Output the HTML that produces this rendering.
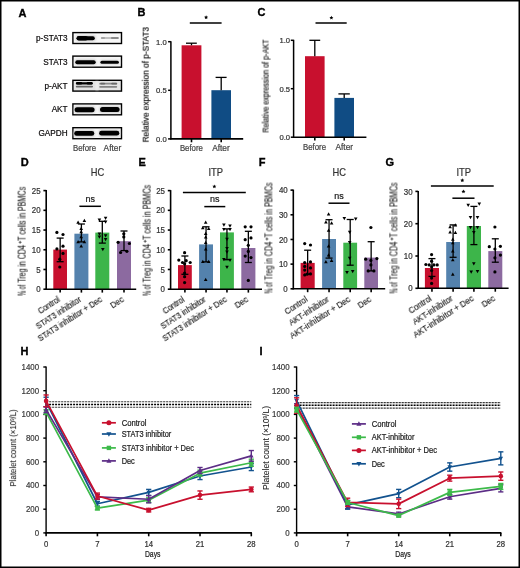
<!DOCTYPE html>
<html><head><meta charset="utf-8"><title>Figure</title>
<style>
html,body{margin:0;padding:0;background:#fff;width:520px;height:568px;overflow:hidden;}
svg{display:block;}
text{font-family:"Liberation Sans",sans-serif;will-change:transform;}
</style></head>
<body>
<svg width="520" height="568" viewBox="0 0 520 568">
<rect x="0.75" y="0.75" width="518.5" height="566.5" fill="#fff" stroke="#000" stroke-width="1.5"/>
<text x="18.6" y="17.3" font-size="11" font-weight="bold" fill="#000" stroke="#000" stroke-width="0.35">A</text>
<text x="67.6" y="40.95" font-size="8.2" stroke="#231f20" stroke-width="0.22" text-anchor="end">p-STAT3</text>
<text x="67.6" y="64.55" font-size="8.2" stroke="#231f20" stroke-width="0.22" text-anchor="end">STAT3</text>
<text x="67.6" y="88.6" font-size="8.2" stroke="#231f20" stroke-width="0.22" text-anchor="end">p-AKT</text>
<text x="67.6" y="112.25" font-size="8.2" stroke="#231f20" stroke-width="0.22" text-anchor="end">AKT</text>
<text x="67.6" y="136.1" font-size="8.2" stroke="#231f20" stroke-width="0.22" text-anchor="end">GAPDH</text>
<defs><filter id="bl" x="-20%" y="-50%" width="140%" height="200%"><feGaussianBlur stdDeviation="0.7"/></filter><filter id="bl2" x="-20%" y="-80%" width="140%" height="260%"><feGaussianBlur stdDeviation="0.8"/></filter></defs>
<rect x="72.9" y="32.6" width="48.6" height="10.9" fill="#f7f7f7" stroke="#000" stroke-width="1.4"/>
<rect x="75.6" y="35.3" width="20.4" height="6" rx="3" fill="#d0d0d0" filter="url(#bl2)" opacity="1"/>
<rect x="76.6" y="36.35" width="18.2" height="3.9" rx="1.95" fill="#000" filter="url(#bl)" opacity="1"/>
<rect x="76.6" y="36" width="11.4" height="4.6" rx="2.3" fill="#000" filter="url(#bl)" opacity="1"/>
<rect x="100.8" y="37.2" width="18.2" height="1.6" rx="0.8" fill="#b0b0b0" filter="url(#bl)" opacity="1"/>
<rect x="111" y="37.1" width="7.6" height="1.8" rx="0.9" fill="#8a8a8a" filter="url(#bl)" opacity="1"/>
<rect x="101" y="37.2" width="4" height="1.6" rx="0.8" fill="#9c9c9c" filter="url(#bl)" opacity="1"/>
<rect x="72.9" y="56.1" width="48.6" height="11.1" fill="#f6f6f6" stroke="#000" stroke-width="1.4"/>
<rect x="74.5" y="59.3" width="22" height="6" rx="3" fill="#cfcfcf" filter="url(#bl2)" opacity="1"/>
<rect x="99.8" y="59.8" width="19.7" height="5" rx="2.5" fill="#d8d8d8" filter="url(#bl2)" opacity="1"/>
<rect x="75.3" y="60.35" width="20.4" height="3.9" rx="1.95" fill="#000" filter="url(#bl)" opacity="1"/>
<rect x="100.4" y="60.8" width="18.5" height="3" rx="1.5" fill="#000" filter="url(#bl)" opacity="1"/>
<rect x="72.9" y="80.3" width="48.6" height="10.8" fill="#e4e4e4" stroke="#000" stroke-width="1.4"/>
<rect x="96" y="80.7" width="2" height="10" rx="3" fill="#f2f2f2" filter="url(#bl2)" opacity="1"/>
<rect x="75.8" y="82.3" width="17" height="2.2" rx="1.1" fill="#000" filter="url(#bl)" opacity="1"/>
<rect x="76.2" y="82" width="6" height="2.6" rx="1.3" fill="#000" filter="url(#bl)" opacity="1"/>
<rect x="86.6" y="82" width="6" height="2.6" rx="1.3" fill="#000" filter="url(#bl)" opacity="1"/>
<rect x="75.8" y="85.7" width="17.2" height="1.8" rx="0.9" fill="#666" filter="url(#bl)" opacity="1"/>
<rect x="99.2" y="82.85" width="18" height="1.7" rx="0.85" fill="#8c8c8c" filter="url(#bl)" opacity="1"/>
<rect x="100.2" y="82.65" width="5" height="1.9" rx="0.95" fill="#6a6a6a" filter="url(#bl)" opacity="1"/>
<rect x="111.2" y="82.65" width="6" height="1.9" rx="0.95" fill="#6a6a6a" filter="url(#bl)" opacity="1"/>
<rect x="99.2" y="85.95" width="18" height="1.7" rx="0.85" fill="#848484" filter="url(#bl)" opacity="1"/>
<rect x="72.9" y="103.9" width="48.6" height="10.9" fill="#f6f6f6" stroke="#000" stroke-width="1.4"/>
<rect x="74" y="106.3" width="21.2" height="7" rx="3" fill="#cccccc" filter="url(#bl2)" opacity="1"/>
<rect x="99.4" y="106.1" width="20.6" height="7" rx="3" fill="#cccccc" filter="url(#bl2)" opacity="1"/>
<rect x="74.6" y="107.3" width="20" height="5" rx="2.5" fill="#000" filter="url(#bl)" opacity="1"/>
<rect x="100" y="107.1" width="19.6" height="5" rx="2.5" fill="#000" filter="url(#bl)" opacity="1"/>
<rect x="72.9" y="127.7" width="48.6" height="11" fill="#f6f6f6" stroke="#000" stroke-width="1.4"/>
<rect x="73.6" y="129.9" width="21.2" height="7" rx="3" fill="#cccccc" filter="url(#bl2)" opacity="1"/>
<rect x="98.6" y="129.7" width="21.2" height="7" rx="3" fill="#cccccc" filter="url(#bl2)" opacity="1"/>
<rect x="74.2" y="131" width="20.1" height="4.8" rx="2.4" fill="#000" filter="url(#bl)" opacity="1"/>
<rect x="99.1" y="130.8" width="20.2" height="4.8" rx="2.4" fill="#000" filter="url(#bl)" opacity="1"/>
<text x="84.5" y="150.6" font-size="8.2" stroke="#444" stroke-width="0.22" text-anchor="middle" fill="#444" textLength="23" lengthAdjust="spacingAndGlyphs">Before</text>
<text x="112.4" y="150.6" font-size="8.2" stroke="#444" stroke-width="0.22" text-anchor="middle" fill="#444" textLength="17.6" lengthAdjust="spacingAndGlyphs">After</text>
<text x="137.6" y="16.2" font-size="11" font-weight="bold" fill="#000" stroke="#000" stroke-width="0.35">B</text>
<line x1="170.9" y1="41.2" x2="170.9" y2="139.5" stroke="#000" stroke-width="1.5"/>
<line x1="168.1" y1="41.7" x2="170.9" y2="41.7" stroke="#000" stroke-width="1.5"/>
<text x="166.7" y="44.7" font-size="8" stroke="#333333" stroke-width="0.22" text-anchor="end" fill="#333333" textLength="10.6" lengthAdjust="spacingAndGlyphs">1.0</text>
<line x1="168.1" y1="90.3" x2="170.9" y2="90.3" stroke="#000" stroke-width="1.5"/>
<text x="166.7" y="93.3" font-size="8" stroke="#333333" stroke-width="0.22" text-anchor="end" fill="#333333" textLength="10.6" lengthAdjust="spacingAndGlyphs">0.5</text>
<line x1="168.1" y1="138.9" x2="170.9" y2="138.9" stroke="#000" stroke-width="1.5"/>
<text x="166.7" y="141.9" font-size="8" stroke="#333333" stroke-width="0.22" text-anchor="end" fill="#333333" textLength="10.6" lengthAdjust="spacingAndGlyphs">0.0</text>
<rect x="181.6" y="45.3" width="19.8" height="93.6" fill="#c8102e"/>
<rect x="211.4" y="90.2" width="19.6" height="48.7" fill="#104c84"/>
<line x1="191.5" y1="45.3" x2="191.5" y2="43.2" stroke="#000" stroke-width="1.3"/>
<line x1="186" y1="43.2" x2="196.8" y2="43.2" stroke="#000" stroke-width="1.3"/>
<line x1="221.2" y1="90.2" x2="221.2" y2="77.4" stroke="#000" stroke-width="1.3"/>
<line x1="215.6" y1="77.4" x2="226.6" y2="77.4" stroke="#000" stroke-width="1.3"/>
<line x1="170.3" y1="138.9" x2="243.2" y2="138.9" stroke="#000" stroke-width="1.6"/>
<line x1="191.5" y1="138.9" x2="191.5" y2="142.3" stroke="#000" stroke-width="1.6"/>
<line x1="221.2" y1="138.9" x2="221.2" y2="142.3" stroke="#000" stroke-width="1.6"/>
<line x1="189.8" y1="22.9" x2="221.6" y2="22.9" stroke="#000" stroke-width="1.5"/>
<polygon points="206.1,15.3 206.69,16.59 208.1,16.75 207.05,17.71 207.33,19.1 206.1,18.4 204.87,19.1 205.15,17.71 204.1,16.75 205.51,16.59" fill="#000"/>
<text x="191.4" y="150.6" font-size="8.2" stroke="#444" stroke-width="0.22" text-anchor="middle" fill="#444" textLength="23" lengthAdjust="spacingAndGlyphs">Before</text>
<text x="221" y="150.6" font-size="8.2" stroke="#444" stroke-width="0.22" text-anchor="middle" fill="#444" textLength="17.6" lengthAdjust="spacingAndGlyphs">After</text>
<text x="148.4" y="84.7" font-size="9.3" text-anchor="middle" fill="#111" textLength="115.5" lengthAdjust="spacingAndGlyphs" transform="rotate(-90 148.4 84.7)" stroke="#111" stroke-width="0.22">Relative expression of p-STAT3</text>
<text x="257.6" y="16.2" font-size="11" font-weight="bold" fill="#000" stroke="#000" stroke-width="0.35">C</text>
<line x1="293.6" y1="39.8" x2="293.6" y2="137.8" stroke="#000" stroke-width="1.5"/>
<line x1="290.8" y1="40.3" x2="293.6" y2="40.3" stroke="#000" stroke-width="1.5"/>
<text x="290" y="43.4" font-size="8" stroke="#333333" stroke-width="0.22" text-anchor="end" fill="#333333" textLength="10.6" lengthAdjust="spacingAndGlyphs">1.0</text>
<line x1="290.8" y1="88.7" x2="293.6" y2="88.7" stroke="#000" stroke-width="1.5"/>
<text x="290" y="91.8" font-size="8" stroke="#333333" stroke-width="0.22" text-anchor="end" fill="#333333" textLength="10.6" lengthAdjust="spacingAndGlyphs">0.5</text>
<line x1="290.8" y1="137.2" x2="293.6" y2="137.2" stroke="#000" stroke-width="1.5"/>
<text x="290" y="140.3" font-size="8" stroke="#333333" stroke-width="0.22" text-anchor="end" fill="#333333" textLength="10.6" lengthAdjust="spacingAndGlyphs">0.0</text>
<rect x="305" y="56.2" width="19.6" height="81" fill="#c8102e"/>
<rect x="334.4" y="97.9" width="19.6" height="39.3" fill="#104c84"/>
<line x1="314.8" y1="56.2" x2="314.8" y2="40.3" stroke="#000" stroke-width="1.3"/>
<line x1="309.4" y1="40.3" x2="320.2" y2="40.3" stroke="#000" stroke-width="1.3"/>
<line x1="344.2" y1="97.9" x2="344.2" y2="93.9" stroke="#000" stroke-width="1.3"/>
<line x1="338.4" y1="93.9" x2="349.8" y2="93.9" stroke="#000" stroke-width="1.3"/>
<line x1="293" y1="137.2" x2="366.4" y2="137.2" stroke="#000" stroke-width="1.6"/>
<line x1="314.8" y1="137.2" x2="314.8" y2="140.6" stroke="#000" stroke-width="1.6"/>
<line x1="344.2" y1="137.2" x2="344.2" y2="140.6" stroke="#000" stroke-width="1.6"/>
<line x1="315.5" y1="23" x2="346.7" y2="23" stroke="#000" stroke-width="1.5"/>
<polygon points="331.4,15.7 331.99,16.99 333.4,17.15 332.35,18.11 332.63,19.5 331.4,18.8 330.17,19.5 330.45,18.11 329.4,17.15 330.81,16.99" fill="#000"/>
<text x="314.5" y="149.6" font-size="8.2" stroke="#444" stroke-width="0.22" text-anchor="middle" fill="#444" textLength="23" lengthAdjust="spacingAndGlyphs">Before</text>
<text x="344.3" y="149.6" font-size="8.2" stroke="#444" stroke-width="0.22" text-anchor="middle" fill="#444" textLength="17.6" lengthAdjust="spacingAndGlyphs">After</text>
<text x="268.6" y="86" font-size="9.8" text-anchor="middle" fill="#111" textLength="93" lengthAdjust="spacingAndGlyphs" transform="rotate(-90 268.6 86)" stroke="#111" stroke-width="0.18">Relative expression of p-AKT</text>
<text x="20.8" y="165.5" font-size="11" font-weight="bold" fill="#000" stroke="#000" stroke-width="0.35">D</text>
<text x="97.4" y="175.6" font-size="10.4" stroke="#333" stroke-width="0.22" text-anchor="middle" fill="#333" textLength="13.4" lengthAdjust="spacingAndGlyphs">HC</text>
<line x1="46.2" y1="190.1" x2="46.2" y2="289.8" stroke="#000" stroke-width="1.6"/>
<line x1="43.4" y1="289.2" x2="46.2" y2="289.2" stroke="#000" stroke-width="1.6"/>
<text x="40.6" y="292.3" font-size="8.6" stroke="#333333" stroke-width="0.22" text-anchor="end" fill="#333333" textLength="4.4" lengthAdjust="spacingAndGlyphs">0</text>
<line x1="43.4" y1="269.48" x2="46.2" y2="269.48" stroke="#000" stroke-width="1.6"/>
<text x="40.6" y="272.58" font-size="8.6" stroke="#333333" stroke-width="0.22" text-anchor="end" fill="#333333" textLength="4.4" lengthAdjust="spacingAndGlyphs">5</text>
<line x1="43.4" y1="249.76" x2="46.2" y2="249.76" stroke="#000" stroke-width="1.6"/>
<text x="40.6" y="252.86" font-size="8.6" stroke="#333333" stroke-width="0.22" text-anchor="end" fill="#333333" textLength="8.8" lengthAdjust="spacingAndGlyphs">10</text>
<line x1="43.4" y1="230.04" x2="46.2" y2="230.04" stroke="#000" stroke-width="1.6"/>
<text x="40.6" y="233.14" font-size="8.6" stroke="#333333" stroke-width="0.22" text-anchor="end" fill="#333333" textLength="8.8" lengthAdjust="spacingAndGlyphs">15</text>
<line x1="43.4" y1="210.32" x2="46.2" y2="210.32" stroke="#000" stroke-width="1.6"/>
<text x="40.6" y="213.42" font-size="8.6" stroke="#333333" stroke-width="0.22" text-anchor="end" fill="#333333" textLength="8.8" lengthAdjust="spacingAndGlyphs">20</text>
<line x1="43.4" y1="190.6" x2="46.2" y2="190.6" stroke="#000" stroke-width="1.6"/>
<text x="40.6" y="193.7" font-size="8.6" stroke="#333333" stroke-width="0.22" text-anchor="end" fill="#333333" textLength="8.8" lengthAdjust="spacingAndGlyphs">25</text>
<rect x="53.3" y="249.6" width="13.7" height="39.6" fill="#c8102e"/>
<rect x="74.4" y="233.7" width="14" height="55.5" fill="#5482ad"/>
<rect x="95.3" y="232.6" width="14" height="56.6" fill="#3db54a"/>
<rect x="117" y="241.2" width="14" height="48" fill="#8c6aa0"/>
<line x1="45.6" y1="289.2" x2="136.2" y2="289.2" stroke="#000" stroke-width="1.6"/>
<line x1="60.15" y1="289.2" x2="60.15" y2="292.6" stroke="#000" stroke-width="1.6"/>
<line x1="81.4" y1="289.2" x2="81.4" y2="292.6" stroke="#000" stroke-width="1.6"/>
<line x1="102.3" y1="289.2" x2="102.3" y2="292.6" stroke="#000" stroke-width="1.6"/>
<line x1="124" y1="289.2" x2="124" y2="292.6" stroke="#000" stroke-width="1.6"/>
<line x1="60.15" y1="238.1" x2="60.15" y2="261.7" stroke="#000" stroke-width="1.3"/>
<line x1="56.65" y1="238.1" x2="63.65" y2="238.1" stroke="#000" stroke-width="1.3"/>
<line x1="56.65" y1="261.7" x2="63.65" y2="261.7" stroke="#000" stroke-width="1.3"/>
<circle cx="56.9" cy="232.4" r="1.6" fill="#000"/>
<circle cx="63" cy="234.5" r="1.6" fill="#000"/>
<circle cx="63" cy="246.2" r="1.6" fill="#000"/>
<circle cx="56.9" cy="248.9" r="1.6" fill="#000"/>
<circle cx="63" cy="253.4" r="1.6" fill="#000"/>
<circle cx="59.8" cy="259.2" r="1.6" fill="#000"/>
<circle cx="59.8" cy="267" r="1.6" fill="#000"/>
<line x1="81.4" y1="224" x2="81.4" y2="241.9" stroke="#000" stroke-width="1.3"/>
<line x1="77.9" y1="224" x2="84.9" y2="224" stroke="#000" stroke-width="1.3"/>
<line x1="77.9" y1="241.9" x2="84.9" y2="241.9" stroke="#000" stroke-width="1.3"/>
<path d="M78.1 220.56L79.9 223.8L76.3 223.8Z" fill="#000"/>
<path d="M84.4 218.66L86.2 221.9L82.6 221.9Z" fill="#000"/>
<path d="M81.2 226.86L83 230.1L79.4 230.1Z" fill="#000"/>
<path d="M81.2 229.96L83 233.2L79.4 233.2Z" fill="#000"/>
<path d="M81.2 234.96L83 238.2L79.4 238.2Z" fill="#000"/>
<path d="M78.1 239.96L79.9 243.2L76.3 243.2Z" fill="#000"/>
<path d="M84.4 239.96L86.2 243.2L82.6 243.2Z" fill="#000"/>
<path d="M81.2 244.36L83 247.6L79.4 247.6Z" fill="#000"/>
<line x1="102.3" y1="221.3" x2="102.3" y2="243.1" stroke="#000" stroke-width="1.3"/>
<line x1="98.8" y1="221.3" x2="105.8" y2="221.3" stroke="#000" stroke-width="1.3"/>
<line x1="98.8" y1="243.1" x2="105.8" y2="243.1" stroke="#000" stroke-width="1.3"/>
<path d="M99.4 221.74L101.2 218.5L97.6 218.5Z" fill="#000"/>
<path d="M105.6 220.04L107.4 216.8L103.8 216.8Z" fill="#000"/>
<path d="M105.6 223.84L107.4 220.6L103.8 220.6Z" fill="#000"/>
<path d="M99.4 235.74L101.2 232.5L97.6 232.5Z" fill="#000"/>
<path d="M105.6 237.54L107.4 234.3L103.8 234.3Z" fill="#000"/>
<path d="M99.4 238.84L101.2 235.6L97.6 235.6Z" fill="#000"/>
<path d="M105.6 241.34L107.4 238.1L103.8 238.1Z" fill="#000"/>
<path d="M102.8 251.34L104.6 248.1L101 248.1Z" fill="#000"/>
<line x1="124" y1="231" x2="124" y2="250.6" stroke="#000" stroke-width="1.3"/>
<line x1="120.5" y1="231" x2="127.5" y2="231" stroke="#000" stroke-width="1.3"/>
<line x1="120.5" y1="250.6" x2="127.5" y2="250.6" stroke="#000" stroke-width="1.3"/>
<circle cx="118.1" cy="242.3" r="1.6" fill="#000"/>
<circle cx="129.4" cy="243.5" r="1.6" fill="#000"/>
<circle cx="123.8" cy="236.9" r="1.6" fill="#000"/>
<circle cx="123.8" cy="233.8" r="1.6" fill="#000"/>
<circle cx="120.6" cy="252.5" r="1.6" fill="#000"/>
<circle cx="126.9" cy="251.3" r="1.6" fill="#000"/>
<line x1="79.4" y1="206.3" x2="100.9" y2="206.3" stroke="#000" stroke-width="1.5"/>
<text x="90.15" y="202.2" font-size="8.4" stroke="#222" stroke-width="0.22" text-anchor="middle" fill="#222" textLength="9.5" lengthAdjust="spacingAndGlyphs">ns</text>
<g transform="translate(25.6 295.8) rotate(-90)">
<text x="0" y="0" font-size="10" fill="#1a1a1a" textLength="11.11" lengthAdjust="spacingAndGlyphs" stroke="#1a1a1a" stroke-width="0.12">% of</text>
<text x="13.21" y="0" font-size="10" fill="#1a1a1a" textLength="37.53" lengthAdjust="spacingAndGlyphs" stroke="#1a1a1a" stroke-width="0.12">Treg in CD4</text>
<text x="54.95" y="0" font-size="10" fill="#1a1a1a" textLength="54.05" lengthAdjust="spacingAndGlyphs" stroke="#1a1a1a" stroke-width="0.12">T cells in PBMCs</text>
<text x="52.05" y="-3.6" font-size="5.5" stroke="#222" stroke-width="0.22" fill="#222">+</text>
</g>
<text x="60.75" y="301.2" font-size="9.6" text-anchor="end" fill="#111" textLength="24.3" lengthAdjust="spacingAndGlyphs" transform="rotate(-33 60.75 301.2)" stroke="#111" stroke-width="0.15">Control</text>
<text x="82" y="301.2" font-size="9.6" text-anchor="end" fill="#111" textLength="52" lengthAdjust="spacingAndGlyphs" transform="rotate(-33 82 301.2)" stroke="#111" stroke-width="0.15">STAT3 inhibitor</text>
<text x="102.9" y="301.2" font-size="9.6" text-anchor="end" fill="#111" textLength="74.6" lengthAdjust="spacingAndGlyphs" transform="rotate(-33 102.9 301.2)" stroke="#111" stroke-width="0.15">STAT3 inhibitor + Dec</text>
<text x="124.6" y="301.2" font-size="9.6" text-anchor="end" fill="#111" textLength="14" lengthAdjust="spacingAndGlyphs" transform="rotate(-33 124.6 301.2)" stroke="#111" stroke-width="0.15">Dec</text>
<text x="138.4" y="165.5" font-size="11" font-weight="bold" fill="#000" stroke="#000" stroke-width="0.35">E</text>
<text x="215.8" y="175.6" font-size="10.4" stroke="#333" stroke-width="0.22" text-anchor="middle" fill="#333" textLength="14.6" lengthAdjust="spacingAndGlyphs">ITP</text>
<line x1="170.6" y1="190.1" x2="170.6" y2="289.8" stroke="#000" stroke-width="1.6"/>
<line x1="167.8" y1="289.2" x2="170.6" y2="289.2" stroke="#000" stroke-width="1.6"/>
<text x="165" y="292.3" font-size="8.6" stroke="#333333" stroke-width="0.22" text-anchor="end" fill="#333333" textLength="4.4" lengthAdjust="spacingAndGlyphs">0</text>
<line x1="167.8" y1="269.48" x2="170.6" y2="269.48" stroke="#000" stroke-width="1.6"/>
<text x="165" y="272.58" font-size="8.6" stroke="#333333" stroke-width="0.22" text-anchor="end" fill="#333333" textLength="4.4" lengthAdjust="spacingAndGlyphs">5</text>
<line x1="167.8" y1="249.76" x2="170.6" y2="249.76" stroke="#000" stroke-width="1.6"/>
<text x="165" y="252.86" font-size="8.6" stroke="#333333" stroke-width="0.22" text-anchor="end" fill="#333333" textLength="8.8" lengthAdjust="spacingAndGlyphs">10</text>
<line x1="167.8" y1="230.04" x2="170.6" y2="230.04" stroke="#000" stroke-width="1.6"/>
<text x="165" y="233.14" font-size="8.6" stroke="#333333" stroke-width="0.22" text-anchor="end" fill="#333333" textLength="8.8" lengthAdjust="spacingAndGlyphs">15</text>
<line x1="167.8" y1="210.32" x2="170.6" y2="210.32" stroke="#000" stroke-width="1.6"/>
<text x="165" y="213.42" font-size="8.6" stroke="#333333" stroke-width="0.22" text-anchor="end" fill="#333333" textLength="8.8" lengthAdjust="spacingAndGlyphs">20</text>
<line x1="167.8" y1="190.6" x2="170.6" y2="190.6" stroke="#000" stroke-width="1.6"/>
<text x="165" y="193.7" font-size="8.6" stroke="#333333" stroke-width="0.22" text-anchor="end" fill="#333333" textLength="8.8" lengthAdjust="spacingAndGlyphs">25</text>
<rect x="178" y="265.1" width="13.8" height="24.1" fill="#c8102e"/>
<rect x="199.1" y="244.4" width="13.9" height="44.8" fill="#5482ad"/>
<rect x="220" y="232.4" width="13.9" height="56.8" fill="#3db54a"/>
<rect x="241.3" y="248" width="14.1" height="41.2" fill="#8c6aa0"/>
<line x1="170" y1="289.2" x2="262" y2="289.2" stroke="#000" stroke-width="1.6"/>
<line x1="184.9" y1="289.2" x2="184.9" y2="292.6" stroke="#000" stroke-width="1.6"/>
<line x1="206.05" y1="289.2" x2="206.05" y2="292.6" stroke="#000" stroke-width="1.6"/>
<line x1="226.95" y1="289.2" x2="226.95" y2="292.6" stroke="#000" stroke-width="1.6"/>
<line x1="248.35" y1="289.2" x2="248.35" y2="292.6" stroke="#000" stroke-width="1.6"/>
<line x1="184.9" y1="256" x2="184.9" y2="274.3" stroke="#000" stroke-width="1.3"/>
<line x1="181.4" y1="256" x2="188.4" y2="256" stroke="#000" stroke-width="1.3"/>
<line x1="181.4" y1="274.3" x2="188.4" y2="274.3" stroke="#000" stroke-width="1.3"/>
<circle cx="184.6" cy="252.7" r="1.6" fill="#000"/>
<circle cx="178.8" cy="260.1" r="1.6" fill="#000"/>
<circle cx="182.5" cy="262.5" r="1.6" fill="#000"/>
<circle cx="186.2" cy="260.7" r="1.6" fill="#000"/>
<circle cx="190.2" cy="262.5" r="1.6" fill="#000"/>
<circle cx="184.6" cy="263.8" r="1.6" fill="#000"/>
<circle cx="184.6" cy="273" r="1.6" fill="#000"/>
<circle cx="184.6" cy="276.7" r="1.6" fill="#000"/>
<circle cx="184.6" cy="282.6" r="1.6" fill="#000"/>
<line x1="206.05" y1="226.8" x2="206.05" y2="261.9" stroke="#000" stroke-width="1.3"/>
<line x1="202.55" y1="226.8" x2="209.55" y2="226.8" stroke="#000" stroke-width="1.3"/>
<line x1="202.55" y1="261.9" x2="209.55" y2="261.9" stroke="#000" stroke-width="1.3"/>
<path d="M205.7 220.56L207.5 223.8L203.9 223.8Z" fill="#000"/>
<path d="M202.8 226.06L204.6 229.3L201 229.3Z" fill="#000"/>
<path d="M208.7 226.66L210.5 229.9L206.9 229.9Z" fill="#000"/>
<path d="M205.7 231.66L207.5 234.9L203.9 234.9Z" fill="#000"/>
<path d="M205.7 235.36L207.5 238.6L203.9 238.6Z" fill="#000"/>
<path d="M205.7 240.86L207.5 244.1L203.9 244.1Z" fill="#000"/>
<path d="M205.7 247.26L207.5 250.5L203.9 250.5Z" fill="#000"/>
<path d="M202.8 259.76L204.6 263L201 263Z" fill="#000"/>
<path d="M208.7 259.76L210.5 263L206.9 263Z" fill="#000"/>
<path d="M205.7 277.66L207.5 280.9L203.9 280.9Z" fill="#000"/>
<line x1="226.95" y1="228.9" x2="226.95" y2="259.7" stroke="#000" stroke-width="1.3"/>
<line x1="223.45" y1="228.9" x2="230.45" y2="228.9" stroke="#000" stroke-width="1.3"/>
<line x1="223.45" y1="259.7" x2="230.45" y2="259.7" stroke="#000" stroke-width="1.3"/>
<path d="M223.9 226.64L225.7 223.4L222.1 223.4Z" fill="#000"/>
<path d="M230 227.84L231.8 224.6L228.2 224.6Z" fill="#000"/>
<path d="M223.9 231.14L225.7 227.9L222.1 227.9Z" fill="#000"/>
<path d="M230 231.14L231.8 227.9L228.2 227.9Z" fill="#000"/>
<path d="M227 241.04L228.8 237.8L225.2 237.8Z" fill="#000"/>
<path d="M227 250.34L228.8 247.1L225.2 247.1Z" fill="#000"/>
<path d="M227 253.74L228.8 250.5L225.2 250.5Z" fill="#000"/>
<path d="M223.9 261.14L225.7 257.9L222.1 257.9Z" fill="#000"/>
<path d="M230 261.94L231.8 258.7L228.2 258.7Z" fill="#000"/>
<path d="M227 269.04L228.8 265.8L225.2 265.8Z" fill="#000"/>
<line x1="248.35" y1="231.3" x2="248.35" y2="262.5" stroke="#000" stroke-width="1.3"/>
<line x1="244.85" y1="231.3" x2="251.85" y2="231.3" stroke="#000" stroke-width="1.3"/>
<line x1="244.85" y1="262.5" x2="251.85" y2="262.5" stroke="#000" stroke-width="1.3"/>
<circle cx="245.2" cy="226.8" r="1.6" fill="#000"/>
<circle cx="251" cy="226.8" r="1.6" fill="#000"/>
<circle cx="245.2" cy="239.7" r="1.6" fill="#000"/>
<circle cx="251" cy="237.9" r="1.6" fill="#000"/>
<circle cx="248.3" cy="245.3" r="1.6" fill="#000"/>
<circle cx="248.3" cy="251.4" r="1.6" fill="#000"/>
<circle cx="245.2" cy="256.1" r="1.6" fill="#000"/>
<circle cx="251" cy="257.6" r="1.6" fill="#000"/>
<circle cx="248.3" cy="280.4" r="1.6" fill="#000"/>
<line x1="182.9" y1="192.4" x2="245.8" y2="192.4" stroke="#000" stroke-width="1.5"/>
<polygon points="214.35,184.4 214.94,185.69 216.35,185.85 215.3,186.81 215.58,188.2 214.35,187.5 213.12,188.2 213.4,186.81 212.35,185.85 213.76,185.69" fill="#000"/>
<line x1="204.3" y1="206.6" x2="225.3" y2="206.6" stroke="#000" stroke-width="1.5"/>
<text x="214.8" y="202.3" font-size="8.4" stroke="#222" stroke-width="0.22" text-anchor="middle" fill="#222" textLength="9.5" lengthAdjust="spacingAndGlyphs">ns</text>
<g transform="translate(150.6 295.8) rotate(-90)">
<text x="0" y="0" font-size="10" fill="#1a1a1a" textLength="11.31" lengthAdjust="spacingAndGlyphs" stroke="#1a1a1a" stroke-width="0.12">% of</text>
<text x="13.45" y="0" font-size="10" fill="#1a1a1a" textLength="38.22" lengthAdjust="spacingAndGlyphs" stroke="#1a1a1a" stroke-width="0.12">Treg in CD4</text>
<text x="55.96" y="0" font-size="10" fill="#1a1a1a" textLength="55.04" lengthAdjust="spacingAndGlyphs" stroke="#1a1a1a" stroke-width="0.12">T cells in PBMCs</text>
<text x="53" y="-3.6" font-size="5.5" stroke="#222" stroke-width="0.22" fill="#222">+</text>
</g>
<text x="185.5" y="301.2" font-size="9.6" text-anchor="end" fill="#111" textLength="24.3" lengthAdjust="spacingAndGlyphs" transform="rotate(-33 185.5 301.2)" stroke="#111" stroke-width="0.15">Control</text>
<text x="206.65" y="301.2" font-size="9.6" text-anchor="end" fill="#111" textLength="52" lengthAdjust="spacingAndGlyphs" transform="rotate(-33 206.65 301.2)" stroke="#111" stroke-width="0.15">STAT3 inhibitor</text>
<text x="227.55" y="301.2" font-size="9.6" text-anchor="end" fill="#111" textLength="74.6" lengthAdjust="spacingAndGlyphs" transform="rotate(-33 227.55 301.2)" stroke="#111" stroke-width="0.15">STAT3 inhibitor + Dec</text>
<text x="248.95" y="301.2" font-size="9.6" text-anchor="end" fill="#111" textLength="14" lengthAdjust="spacingAndGlyphs" transform="rotate(-33 248.95 301.2)" stroke="#111" stroke-width="0.15">Dec</text>
<text x="258.7" y="165.5" font-size="11" font-weight="bold" fill="#000" stroke="#000" stroke-width="0.35">F</text>
<text x="339.2" y="175.6" font-size="10.4" stroke="#333" stroke-width="0.22" text-anchor="middle" fill="#333" textLength="13.4" lengthAdjust="spacingAndGlyphs">HC</text>
<line x1="293.3" y1="189.62" x2="293.3" y2="289.4" stroke="#000" stroke-width="1.6"/>
<line x1="290.5" y1="288.8" x2="293.3" y2="288.8" stroke="#000" stroke-width="1.6"/>
<text x="287.7" y="291.9" font-size="8.6" stroke="#333333" stroke-width="0.22" text-anchor="end" fill="#333333" textLength="4.4" lengthAdjust="spacingAndGlyphs">0</text>
<line x1="290.5" y1="264.13" x2="293.3" y2="264.13" stroke="#000" stroke-width="1.6"/>
<text x="287.7" y="267.23" font-size="8.6" stroke="#333333" stroke-width="0.22" text-anchor="end" fill="#333333" textLength="8.8" lengthAdjust="spacingAndGlyphs">10</text>
<line x1="290.5" y1="239.46" x2="293.3" y2="239.46" stroke="#000" stroke-width="1.6"/>
<text x="287.7" y="242.56" font-size="8.6" stroke="#333333" stroke-width="0.22" text-anchor="end" fill="#333333" textLength="8.8" lengthAdjust="spacingAndGlyphs">20</text>
<line x1="290.5" y1="214.79" x2="293.3" y2="214.79" stroke="#000" stroke-width="1.6"/>
<text x="287.7" y="217.89" font-size="8.6" stroke="#333333" stroke-width="0.22" text-anchor="end" fill="#333333" textLength="8.8" lengthAdjust="spacingAndGlyphs">30</text>
<line x1="290.5" y1="190.12" x2="293.3" y2="190.12" stroke="#000" stroke-width="1.6"/>
<text x="287.7" y="193.22" font-size="8.6" stroke="#333333" stroke-width="0.22" text-anchor="end" fill="#333333" textLength="8.8" lengthAdjust="spacingAndGlyphs">40</text>
<rect x="300.6" y="262.9" width="14.1" height="25.9" fill="#c8102e"/>
<rect x="322.1" y="239" width="13.9" height="49.8" fill="#5482ad"/>
<rect x="343.3" y="242.7" width="13.8" height="46.1" fill="#3db54a"/>
<rect x="364.3" y="257.6" width="13.7" height="31.2" fill="#8c6aa0"/>
<line x1="292.7" y1="288.8" x2="385.2" y2="288.8" stroke="#000" stroke-width="1.6"/>
<line x1="307.65" y1="288.8" x2="307.65" y2="292.2" stroke="#000" stroke-width="1.6"/>
<line x1="329.05" y1="288.8" x2="329.05" y2="292.2" stroke="#000" stroke-width="1.6"/>
<line x1="350.2" y1="288.8" x2="350.2" y2="292.2" stroke="#000" stroke-width="1.6"/>
<line x1="371.15" y1="288.8" x2="371.15" y2="292.2" stroke="#000" stroke-width="1.6"/>
<line x1="307.65" y1="250.2" x2="307.65" y2="274.2" stroke="#000" stroke-width="1.3"/>
<line x1="304.15" y1="250.2" x2="311.15" y2="250.2" stroke="#000" stroke-width="1.3"/>
<line x1="304.15" y1="274.2" x2="311.15" y2="274.2" stroke="#000" stroke-width="1.3"/>
<circle cx="304.7" cy="243.6" r="1.6" fill="#000"/>
<circle cx="310.5" cy="245" r="1.6" fill="#000"/>
<circle cx="304.7" cy="262.6" r="1.6" fill="#000"/>
<circle cx="310.5" cy="261.9" r="1.6" fill="#000"/>
<circle cx="304.7" cy="266.4" r="1.6" fill="#000"/>
<circle cx="310.5" cy="267.9" r="1.6" fill="#000"/>
<circle cx="304.7" cy="270.1" r="1.6" fill="#000"/>
<circle cx="307.2" cy="274.2" r="1.6" fill="#000"/>
<circle cx="310.5" cy="273.9" r="1.6" fill="#000"/>
<circle cx="304.7" cy="275" r="1.6" fill="#000"/>
<line x1="329.05" y1="219.7" x2="329.05" y2="258.1" stroke="#000" stroke-width="1.3"/>
<line x1="325.55" y1="219.7" x2="332.55" y2="219.7" stroke="#000" stroke-width="1.3"/>
<line x1="325.55" y1="258.1" x2="332.55" y2="258.1" stroke="#000" stroke-width="1.3"/>
<path d="M328.6 212.36L330.4 215.6L326.8 215.6Z" fill="#000"/>
<path d="M325.9 220.26L327.7 223.5L324.1 223.5Z" fill="#000"/>
<path d="M331.6 221.36L333.4 224.6L329.8 224.6Z" fill="#000"/>
<path d="M328.6 228.46L330.4 231.7L326.8 231.7Z" fill="#000"/>
<path d="M328.6 244.26L330.4 247.5L326.8 247.5Z" fill="#000"/>
<path d="M328.6 253.16L330.4 256.4L326.8 256.4Z" fill="#000"/>
<path d="M325.9 259.96L327.7 263.2L324.1 263.2Z" fill="#000"/>
<path d="M331.6 258.76L333.4 262L329.8 262Z" fill="#000"/>
<line x1="350.2" y1="219.5" x2="350.2" y2="265.2" stroke="#000" stroke-width="1.3"/>
<line x1="346.7" y1="219.5" x2="353.7" y2="219.5" stroke="#000" stroke-width="1.3"/>
<line x1="346.7" y1="265.2" x2="353.7" y2="265.2" stroke="#000" stroke-width="1.3"/>
<path d="M344.3 220.14L346.1 216.9L342.5 216.9Z" fill="#000"/>
<path d="M355.7 220.84L357.5 217.6L353.9 217.6Z" fill="#000"/>
<path d="M349.7 233.94L351.5 230.7L347.9 230.7Z" fill="#000"/>
<path d="M349.7 244.34L351.5 241.1L347.9 241.1Z" fill="#000"/>
<path d="M349.7 260.04L351.5 256.8L347.9 256.8Z" fill="#000"/>
<path d="M347 274.34L348.8 271.1L345.2 271.1Z" fill="#000"/>
<path d="M352.7 273.14L354.5 269.9L350.9 269.9Z" fill="#000"/>
<line x1="371.15" y1="241.7" x2="371.15" y2="270.9" stroke="#000" stroke-width="1.3"/>
<line x1="367.65" y1="241.7" x2="374.65" y2="241.7" stroke="#000" stroke-width="1.3"/>
<line x1="367.65" y1="270.9" x2="374.65" y2="270.9" stroke="#000" stroke-width="1.3"/>
<circle cx="370.9" cy="227.5" r="1.6" fill="#000"/>
<circle cx="365.7" cy="259.2" r="1.6" fill="#000"/>
<circle cx="376.9" cy="258.6" r="1.6" fill="#000"/>
<circle cx="370.9" cy="260.4" r="1.6" fill="#000"/>
<circle cx="370.9" cy="264.9" r="1.6" fill="#000"/>
<circle cx="368.2" cy="270.9" r="1.6" fill="#000"/>
<circle cx="373.9" cy="270.9" r="1.6" fill="#000"/>
<line x1="328.5" y1="203.2" x2="349.5" y2="203.2" stroke="#000" stroke-width="1.5"/>
<text x="339" y="199.2" font-size="8.4" stroke="#222" stroke-width="0.22" text-anchor="middle" fill="#222" textLength="9.5" lengthAdjust="spacingAndGlyphs">ns</text>
<g transform="translate(272.4 293.5) rotate(-90)">
<text x="0" y="0" font-size="10" fill="#1a1a1a" textLength="11.31" lengthAdjust="spacingAndGlyphs" stroke="#1a1a1a" stroke-width="0.12">% of</text>
<text x="13.45" y="0" font-size="10" fill="#1a1a1a" textLength="38.22" lengthAdjust="spacingAndGlyphs" stroke="#1a1a1a" stroke-width="0.12">Treg in CD4</text>
<text x="55.96" y="0" font-size="10" fill="#1a1a1a" textLength="55.04" lengthAdjust="spacingAndGlyphs" stroke="#1a1a1a" stroke-width="0.12">T cells in PBMCs</text>
<text x="53" y="-3.6" font-size="5.5" stroke="#222" stroke-width="0.22" fill="#222">+</text>
</g>
<text x="308.25" y="300.8" font-size="9.6" text-anchor="end" fill="#111" textLength="25.5" lengthAdjust="spacingAndGlyphs" transform="rotate(-33 308.25 300.8)" stroke="#111" stroke-width="0.15">Control</text>
<text x="329.65" y="300.8" font-size="9.6" text-anchor="end" fill="#111" textLength="46" lengthAdjust="spacingAndGlyphs" transform="rotate(-33 329.65 300.8)" stroke="#111" stroke-width="0.15">AKT-inhibitor</text>
<text x="350.8" y="300.8" font-size="9.6" text-anchor="end" fill="#111" textLength="70" lengthAdjust="spacingAndGlyphs" transform="rotate(-33 350.8 300.8)" stroke="#111" stroke-width="0.15">AKT-inhibitor + Dec</text>
<text x="371.75" y="300.8" font-size="9.6" text-anchor="end" fill="#111" textLength="14" lengthAdjust="spacingAndGlyphs" transform="rotate(-33 371.75 300.8)" stroke="#111" stroke-width="0.15">Dec</text>
<text x="385.6" y="165.5" font-size="11" font-weight="bold" fill="#000" stroke="#000" stroke-width="0.35">G</text>
<text x="463.7" y="175.6" font-size="10.4" stroke="#333" stroke-width="0.22" text-anchor="middle" fill="#333" textLength="14.6" lengthAdjust="spacingAndGlyphs">ITP</text>
<line x1="418.2" y1="190.9" x2="418.2" y2="288.9" stroke="#000" stroke-width="1.6"/>
<line x1="415.4" y1="288.3" x2="418.2" y2="288.3" stroke="#000" stroke-width="1.6"/>
<text x="412.6" y="291.4" font-size="8.6" stroke="#333333" stroke-width="0.22" text-anchor="end" fill="#333333" textLength="4.4" lengthAdjust="spacingAndGlyphs">0</text>
<line x1="415.4" y1="256" x2="418.2" y2="256" stroke="#000" stroke-width="1.6"/>
<text x="412.6" y="259.1" font-size="8.6" stroke="#333333" stroke-width="0.22" text-anchor="end" fill="#333333" textLength="8.8" lengthAdjust="spacingAndGlyphs">10</text>
<line x1="415.4" y1="223.7" x2="418.2" y2="223.7" stroke="#000" stroke-width="1.6"/>
<text x="412.6" y="226.8" font-size="8.6" stroke="#333333" stroke-width="0.22" text-anchor="end" fill="#333333" textLength="8.8" lengthAdjust="spacingAndGlyphs">20</text>
<line x1="415.4" y1="191.4" x2="418.2" y2="191.4" stroke="#000" stroke-width="1.6"/>
<text x="412.6" y="194.5" font-size="8.6" stroke="#333333" stroke-width="0.22" text-anchor="end" fill="#333333" textLength="8.8" lengthAdjust="spacingAndGlyphs">30</text>
<rect x="424.9" y="268" width="14.1" height="20.3" fill="#c8102e"/>
<rect x="446.2" y="242" width="13.8" height="46.3" fill="#5482ad"/>
<rect x="466.8" y="226" width="14.2" height="62.3" fill="#3db54a"/>
<rect x="488.3" y="251.1" width="14" height="37.2" fill="#8c6aa0"/>
<line x1="417.6" y1="288.3" x2="508.6" y2="288.3" stroke="#000" stroke-width="1.6"/>
<line x1="431.95" y1="288.3" x2="431.95" y2="291.7" stroke="#000" stroke-width="1.6"/>
<line x1="453.1" y1="288.3" x2="453.1" y2="291.7" stroke="#000" stroke-width="1.6"/>
<line x1="473.9" y1="288.3" x2="473.9" y2="291.7" stroke="#000" stroke-width="1.6"/>
<line x1="495.3" y1="288.3" x2="495.3" y2="291.7" stroke="#000" stroke-width="1.6"/>
<line x1="431.95" y1="258.6" x2="431.95" y2="276.4" stroke="#000" stroke-width="1.3"/>
<line x1="428.45" y1="258.6" x2="435.45" y2="258.6" stroke="#000" stroke-width="1.3"/>
<line x1="428.45" y1="276.4" x2="435.45" y2="276.4" stroke="#000" stroke-width="1.3"/>
<circle cx="431.6" cy="254.6" r="1.6" fill="#000"/>
<circle cx="425.9" cy="264.5" r="1.6" fill="#000"/>
<circle cx="429.2" cy="264.9" r="1.6" fill="#000"/>
<circle cx="433.9" cy="264.9" r="1.6" fill="#000"/>
<circle cx="437.2" cy="264.9" r="1.6" fill="#000"/>
<circle cx="431.6" cy="266.8" r="1.6" fill="#000"/>
<circle cx="431.6" cy="270.5" r="1.6" fill="#000"/>
<circle cx="431.6" cy="278.1" r="1.6" fill="#000"/>
<circle cx="431.6" cy="283.4" r="1.6" fill="#000"/>
<circle cx="431.6" cy="261.2" r="1.6" fill="#000"/>
<line x1="453.1" y1="224.9" x2="453.1" y2="257.3" stroke="#000" stroke-width="1.3"/>
<line x1="449.6" y1="224.9" x2="456.6" y2="224.9" stroke="#000" stroke-width="1.3"/>
<line x1="449.6" y1="257.3" x2="456.6" y2="257.3" stroke="#000" stroke-width="1.3"/>
<path d="M450.1 224.96L451.9 228.2L448.3 228.2Z" fill="#000"/>
<path d="M455.4 223.36L457.2 226.6L453.6 226.6Z" fill="#000"/>
<path d="M450.1 230.26L451.9 233.5L448.3 233.5Z" fill="#000"/>
<path d="M455.4 230.86L457.2 234.1L453.6 234.1Z" fill="#000"/>
<path d="M452.8 237.46L454.6 240.7L451 240.7Z" fill="#000"/>
<path d="M452.8 241.06L454.6 244.3L451 244.3Z" fill="#000"/>
<path d="M452.8 249.36L454.6 252.6L451 252.6Z" fill="#000"/>
<path d="M452.8 257.96L454.6 261.2L451 261.2Z" fill="#000"/>
<path d="M452.8 272.46L454.6 275.7L451 275.7Z" fill="#000"/>
<line x1="473.9" y1="206.4" x2="473.9" y2="244.6" stroke="#000" stroke-width="1.3"/>
<line x1="470.4" y1="206.4" x2="477.4" y2="206.4" stroke="#000" stroke-width="1.3"/>
<line x1="470.4" y1="244.6" x2="477.4" y2="244.6" stroke="#000" stroke-width="1.3"/>
<path d="M468.2 206.94L470 203.7L466.4 203.7Z" fill="#000"/>
<path d="M479.3 205.64L481.1 202.4L477.5 202.4Z" fill="#000"/>
<path d="M470.5 219.24L472.3 216L468.7 216Z" fill="#000"/>
<path d="M477.5 219.24L479.3 216L475.7 216Z" fill="#000"/>
<path d="M470.5 229.24L472.3 226L468.7 226Z" fill="#000"/>
<path d="M477.5 229.24L479.3 226L475.7 226Z" fill="#000"/>
<path d="M473.8 234.24L475.6 231L472 231Z" fill="#000"/>
<path d="M473.8 265.54L475.6 262.3L472 262.3Z" fill="#000"/>
<path d="M471.2 273.84L473 270.6L469.4 270.6Z" fill="#000"/>
<path d="M477.5 273.24L479.3 270L475.7 270Z" fill="#000"/>
<line x1="495.3" y1="238.8" x2="495.3" y2="262.2" stroke="#000" stroke-width="1.3"/>
<line x1="491.8" y1="238.8" x2="498.8" y2="238.8" stroke="#000" stroke-width="1.3"/>
<line x1="491.8" y1="262.2" x2="498.8" y2="262.2" stroke="#000" stroke-width="1.3"/>
<circle cx="494.9" cy="227" r="1.6" fill="#000"/>
<circle cx="489.3" cy="246.7" r="1.6" fill="#000"/>
<circle cx="500.4" cy="246.3" r="1.6" fill="#000"/>
<circle cx="494.9" cy="249" r="1.6" fill="#000"/>
<circle cx="500.4" cy="255.1" r="1.6" fill="#000"/>
<circle cx="494.9" cy="257.8" r="1.6" fill="#000"/>
<circle cx="494.9" cy="271.9" r="1.6" fill="#000"/>
<line x1="430.9" y1="185.9" x2="493.7" y2="185.9" stroke="#000" stroke-width="1.5"/>
<polygon points="462.3,178.3 462.89,179.59 464.3,179.75 463.25,180.71 463.53,182.1 462.3,181.4 461.07,182.1 461.35,180.71 460.3,179.75 461.71,179.59" fill="#000"/>
<line x1="452.4" y1="198.2" x2="474.5" y2="198.2" stroke="#000" stroke-width="1.5"/>
<polygon points="463.45,189.5 464.04,190.79 465.45,190.95 464.4,191.91 464.68,193.3 463.45,192.6 462.22,193.3 462.5,191.91 461.45,190.95 462.86,190.79" fill="#000"/>
<g transform="translate(397.4 293.5) rotate(-90)">
<text x="0" y="0" font-size="10" fill="#1a1a1a" textLength="11.31" lengthAdjust="spacingAndGlyphs" stroke="#1a1a1a" stroke-width="0.12">% of</text>
<text x="13.45" y="0" font-size="10" fill="#1a1a1a" textLength="38.22" lengthAdjust="spacingAndGlyphs" stroke="#1a1a1a" stroke-width="0.12">Treg in CD4</text>
<text x="55.96" y="0" font-size="10" fill="#1a1a1a" textLength="55.04" lengthAdjust="spacingAndGlyphs" stroke="#1a1a1a" stroke-width="0.12">T cells in PBMCs</text>
<text x="53" y="-3.6" font-size="5.5" stroke="#222" stroke-width="0.22" fill="#222">+</text>
</g>
<text x="432.55" y="300.3" font-size="9.6" text-anchor="end" fill="#111" textLength="25.5" lengthAdjust="spacingAndGlyphs" transform="rotate(-33 432.55 300.3)" stroke="#111" stroke-width="0.15">Control</text>
<text x="453.7" y="300.3" font-size="9.6" text-anchor="end" fill="#111" textLength="46" lengthAdjust="spacingAndGlyphs" transform="rotate(-33 453.7 300.3)" stroke="#111" stroke-width="0.15">AKT-inhibitor</text>
<text x="474.5" y="300.3" font-size="9.6" text-anchor="end" fill="#111" textLength="70" lengthAdjust="spacingAndGlyphs" transform="rotate(-33 474.5 300.3)" stroke="#111" stroke-width="0.15">AKT-inhibitor + Dec</text>
<text x="495.9" y="300.3" font-size="9.6" text-anchor="end" fill="#111" textLength="14" lengthAdjust="spacingAndGlyphs" transform="rotate(-33 495.9 300.3)" stroke="#111" stroke-width="0.15">Dec</text>
<text x="20.6" y="354.6" font-size="11" font-weight="bold" fill="#000" stroke="#000" stroke-width="0.35">H</text>
<line x1="46.1" y1="366.5" x2="46.1" y2="533.5" stroke="#000" stroke-width="1.4"/>
<line x1="43.3" y1="532.9" x2="46.1" y2="532.9" stroke="#000" stroke-width="1.4"/>
<text x="39.1" y="535.7" font-size="8.6" stroke="#3c3c3c" stroke-width="0.22" text-anchor="end" fill="#3c3c3c" textLength="4.4" lengthAdjust="spacingAndGlyphs">0</text>
<line x1="43.3" y1="509.2" x2="46.1" y2="509.2" stroke="#000" stroke-width="1.4"/>
<text x="39.1" y="512" font-size="8.6" stroke="#3c3c3c" stroke-width="0.22" text-anchor="end" fill="#3c3c3c" textLength="13.2" lengthAdjust="spacingAndGlyphs">200</text>
<line x1="43.3" y1="485.5" x2="46.1" y2="485.5" stroke="#000" stroke-width="1.4"/>
<text x="39.1" y="488.3" font-size="8.6" stroke="#3c3c3c" stroke-width="0.22" text-anchor="end" fill="#3c3c3c" textLength="13.2" lengthAdjust="spacingAndGlyphs">400</text>
<line x1="43.3" y1="461.8" x2="46.1" y2="461.8" stroke="#000" stroke-width="1.4"/>
<text x="39.1" y="464.6" font-size="8.6" stroke="#3c3c3c" stroke-width="0.22" text-anchor="end" fill="#3c3c3c" textLength="13.2" lengthAdjust="spacingAndGlyphs">600</text>
<line x1="43.3" y1="438.1" x2="46.1" y2="438.1" stroke="#000" stroke-width="1.4"/>
<text x="39.1" y="440.9" font-size="8.6" stroke="#3c3c3c" stroke-width="0.22" text-anchor="end" fill="#3c3c3c" textLength="13.2" lengthAdjust="spacingAndGlyphs">800</text>
<line x1="43.3" y1="414.4" x2="46.1" y2="414.4" stroke="#000" stroke-width="1.4"/>
<text x="39.1" y="417.2" font-size="8.6" stroke="#3c3c3c" stroke-width="0.22" text-anchor="end" fill="#3c3c3c" textLength="17.6" lengthAdjust="spacingAndGlyphs">1000</text>
<line x1="43.3" y1="390.7" x2="46.1" y2="390.7" stroke="#000" stroke-width="1.4"/>
<text x="39.1" y="393.5" font-size="8.6" stroke="#3c3c3c" stroke-width="0.22" text-anchor="end" fill="#3c3c3c" textLength="17.6" lengthAdjust="spacingAndGlyphs">1200</text>
<line x1="43.3" y1="367" x2="46.1" y2="367" stroke="#000" stroke-width="1.4"/>
<text x="39.1" y="369.8" font-size="8.6" stroke="#3c3c3c" stroke-width="0.22" text-anchor="end" fill="#3c3c3c" textLength="17.6" lengthAdjust="spacingAndGlyphs">1400</text>
<line x1="45.5" y1="532.9" x2="251.9" y2="532.9" stroke="#000" stroke-width="1.6"/>
<line x1="46.1" y1="532.9" x2="46.1" y2="536.3" stroke="#000" stroke-width="1.6"/>
<line x1="97.4" y1="532.9" x2="97.4" y2="536.3" stroke="#000" stroke-width="1.6"/>
<line x1="148.7" y1="532.9" x2="148.7" y2="536.3" stroke="#000" stroke-width="1.6"/>
<line x1="200" y1="532.9" x2="200" y2="536.3" stroke="#000" stroke-width="1.6"/>
<line x1="251.3" y1="532.9" x2="251.3" y2="536.3" stroke="#000" stroke-width="1.6"/>
<text x="46.1" y="547" font-size="8.6" stroke="#333" stroke-width="0.22" text-anchor="middle" fill="#333" textLength="4.3" lengthAdjust="spacingAndGlyphs">0</text>
<text x="97.4" y="547" font-size="8.6" stroke="#333" stroke-width="0.22" text-anchor="middle" fill="#333" textLength="4.3" lengthAdjust="spacingAndGlyphs">7</text>
<text x="148.7" y="547" font-size="8.6" stroke="#333" stroke-width="0.22" text-anchor="middle" fill="#333" textLength="8.6" lengthAdjust="spacingAndGlyphs">14</text>
<text x="200" y="547" font-size="8.6" stroke="#333" stroke-width="0.22" text-anchor="middle" fill="#333" textLength="8.6" lengthAdjust="spacingAndGlyphs">21</text>
<text x="251.3" y="547" font-size="8.6" stroke="#333" stroke-width="0.22" text-anchor="middle" fill="#333" textLength="8.6" lengthAdjust="spacingAndGlyphs">28</text>
<text x="152.7" y="557" font-size="9" stroke="#222" stroke-width="0.22" text-anchor="middle" fill="#222" textLength="15.6" lengthAdjust="spacingAndGlyphs">Days</text>
<line x1="46.1" y1="401.8" x2="251.3" y2="401.8" stroke="#3a3a3a" stroke-width="1.1" stroke-dasharray="2.2 0.8"/>
<line x1="46.1" y1="404.5" x2="251.3" y2="404.5" stroke="#000" stroke-width="1.4" stroke-dasharray="2 1"/>
<line x1="46.1" y1="407.3" x2="251.3" y2="407.3" stroke="#3a3a3a" stroke-width="1.1" stroke-dasharray="2.2 0.8"/>
<text x="16.1" y="448" font-size="8.6" text-anchor="middle" fill="#222" textLength="77" lengthAdjust="spacingAndGlyphs" transform="rotate(-90 16.1 448)" stroke="#222" stroke-width="0.08">Platelet count (×10<tspan font-size="4.5" dy="-2.5">9</tspan><tspan dy="2.5">/L)</tspan></text>
<polyline points="46.1,401.96 97.4,503.75 148.7,492.37 200,476.02 251.3,467.01" fill="none" stroke="#12528e" stroke-width="1.7" stroke-linejoin="round"/>
<line x1="46.1" y1="397.22" x2="46.1" y2="406.7" stroke="#12528e" stroke-width="1.4"/>
<line x1="43.5" y1="397.22" x2="48.7" y2="397.22" stroke="#12528e" stroke-width="1.4"/>
<line x1="43.5" y1="406.7" x2="48.7" y2="406.7" stroke="#12528e" stroke-width="1.4"/>
<path d="M46.1 404.44L48.4 400.3L43.8 400.3Z" fill="#12528e"/>
<line x1="97.4" y1="501.38" x2="97.4" y2="506.12" stroke="#12528e" stroke-width="1.4"/>
<line x1="94.8" y1="501.38" x2="100" y2="501.38" stroke="#12528e" stroke-width="1.4"/>
<line x1="94.8" y1="506.12" x2="100" y2="506.12" stroke="#12528e" stroke-width="1.4"/>
<path d="M97.4 506.23L99.7 502.09L95.1 502.09Z" fill="#12528e"/>
<line x1="148.7" y1="489.41" x2="148.7" y2="495.34" stroke="#12528e" stroke-width="1.4"/>
<line x1="146.1" y1="489.41" x2="151.3" y2="489.41" stroke="#12528e" stroke-width="1.4"/>
<line x1="146.1" y1="495.34" x2="151.3" y2="495.34" stroke="#12528e" stroke-width="1.4"/>
<path d="M148.7 494.86L151 490.72L146.4 490.72Z" fill="#12528e"/>
<line x1="200" y1="472.46" x2="200" y2="479.57" stroke="#12528e" stroke-width="1.4"/>
<line x1="197.4" y1="472.46" x2="202.6" y2="472.46" stroke="#12528e" stroke-width="1.4"/>
<line x1="197.4" y1="479.57" x2="202.6" y2="479.57" stroke="#12528e" stroke-width="1.4"/>
<path d="M200 478.5L202.3 474.36L197.7 474.36Z" fill="#12528e"/>
<line x1="251.3" y1="463.46" x2="251.3" y2="470.57" stroke="#12528e" stroke-width="1.4"/>
<line x1="248.7" y1="463.46" x2="253.9" y2="463.46" stroke="#12528e" stroke-width="1.4"/>
<line x1="248.7" y1="470.57" x2="253.9" y2="470.57" stroke="#12528e" stroke-width="1.4"/>
<path d="M251.3 469.5L253.6 465.36L249 465.36Z" fill="#12528e"/>
<polyline points="46.1,412.03 97.4,508.13 148.7,500.19 200,473.18 251.3,462.75" fill="none" stroke="#3dba4a" stroke-width="1.7" stroke-linejoin="round"/>
<line x1="46.1" y1="409.66" x2="46.1" y2="414.4" stroke="#3dba4a" stroke-width="1.4"/>
<line x1="43.5" y1="409.66" x2="48.7" y2="409.66" stroke="#3dba4a" stroke-width="1.4"/>
<line x1="43.5" y1="414.4" x2="48.7" y2="414.4" stroke="#3dba4a" stroke-width="1.4"/>
<rect x="43.9" y="409.83" width="4.4" height="4.4" fill="#3dba4a"/>
<line x1="97.4" y1="506.36" x2="97.4" y2="509.91" stroke="#3dba4a" stroke-width="1.4"/>
<line x1="94.8" y1="506.36" x2="100" y2="506.36" stroke="#3dba4a" stroke-width="1.4"/>
<line x1="94.8" y1="509.91" x2="100" y2="509.91" stroke="#3dba4a" stroke-width="1.4"/>
<rect x="95.2" y="505.93" width="4.4" height="4.4" fill="#3dba4a"/>
<line x1="148.7" y1="497.82" x2="148.7" y2="502.56" stroke="#3dba4a" stroke-width="1.4"/>
<line x1="146.1" y1="497.82" x2="151.3" y2="497.82" stroke="#3dba4a" stroke-width="1.4"/>
<line x1="146.1" y1="502.56" x2="151.3" y2="502.56" stroke="#3dba4a" stroke-width="1.4"/>
<rect x="146.5" y="497.99" width="4.4" height="4.4" fill="#3dba4a"/>
<line x1="200" y1="470.21" x2="200" y2="476.14" stroke="#3dba4a" stroke-width="1.4"/>
<line x1="197.4" y1="470.21" x2="202.6" y2="470.21" stroke="#3dba4a" stroke-width="1.4"/>
<line x1="197.4" y1="476.14" x2="202.6" y2="476.14" stroke="#3dba4a" stroke-width="1.4"/>
<rect x="197.8" y="470.98" width="4.4" height="4.4" fill="#3dba4a"/>
<line x1="251.3" y1="459.19" x2="251.3" y2="466.3" stroke="#3dba4a" stroke-width="1.4"/>
<line x1="248.7" y1="459.19" x2="253.9" y2="459.19" stroke="#3dba4a" stroke-width="1.4"/>
<line x1="248.7" y1="466.3" x2="253.9" y2="466.3" stroke="#3dba4a" stroke-width="1.4"/>
<rect x="249.1" y="460.55" width="4.4" height="4.4" fill="#3dba4a"/>
<polyline points="46.1,409.66 97.4,496.88 148.7,499.25 200,470.45 251.3,455.88" fill="none" stroke="#5c2d86" stroke-width="1.7" stroke-linejoin="round"/>
<line x1="46.1" y1="406.7" x2="46.1" y2="412.62" stroke="#5c2d86" stroke-width="1.4"/>
<line x1="43.5" y1="406.7" x2="48.7" y2="406.7" stroke="#5c2d86" stroke-width="1.4"/>
<line x1="43.5" y1="412.62" x2="48.7" y2="412.62" stroke="#5c2d86" stroke-width="1.4"/>
<path d="M46.1 407.18L48.4 411.32L43.8 411.32Z" fill="#5c2d86"/>
<line x1="97.4" y1="494.51" x2="97.4" y2="499.25" stroke="#5c2d86" stroke-width="1.4"/>
<line x1="94.8" y1="494.51" x2="100" y2="494.51" stroke="#5c2d86" stroke-width="1.4"/>
<line x1="94.8" y1="499.25" x2="100" y2="499.25" stroke="#5c2d86" stroke-width="1.4"/>
<path d="M97.4 494.39L99.7 498.53L95.1 498.53Z" fill="#5c2d86"/>
<line x1="148.7" y1="495.69" x2="148.7" y2="502.8" stroke="#5c2d86" stroke-width="1.4"/>
<line x1="146.1" y1="495.69" x2="151.3" y2="495.69" stroke="#5c2d86" stroke-width="1.4"/>
<line x1="146.1" y1="502.8" x2="151.3" y2="502.8" stroke="#5c2d86" stroke-width="1.4"/>
<path d="M148.7 496.76L151 500.9L146.4 500.9Z" fill="#5c2d86"/>
<line x1="200" y1="467.49" x2="200" y2="473.41" stroke="#5c2d86" stroke-width="1.4"/>
<line x1="197.4" y1="467.49" x2="202.6" y2="467.49" stroke="#5c2d86" stroke-width="1.4"/>
<line x1="197.4" y1="473.41" x2="202.6" y2="473.41" stroke="#5c2d86" stroke-width="1.4"/>
<path d="M200 467.97L202.3 472.11L197.7 472.11Z" fill="#5c2d86"/>
<line x1="251.3" y1="450.54" x2="251.3" y2="461.21" stroke="#5c2d86" stroke-width="1.4"/>
<line x1="248.7" y1="450.54" x2="253.9" y2="450.54" stroke="#5c2d86" stroke-width="1.4"/>
<line x1="248.7" y1="461.21" x2="253.9" y2="461.21" stroke="#5c2d86" stroke-width="1.4"/>
<path d="M251.3 453.39L253.6 457.53L249 457.53Z" fill="#5c2d86"/>
<polyline points="46.1,400.89 97.4,496.05 148.7,510.15 200,495.1 251.3,489.41" fill="none" stroke="#c8102e" stroke-width="1.7" stroke-linejoin="round"/>
<line x1="46.1" y1="394.97" x2="46.1" y2="406.82" stroke="#c8102e" stroke-width="1.4"/>
<line x1="43.5" y1="394.97" x2="48.7" y2="394.97" stroke="#c8102e" stroke-width="1.4"/>
<line x1="43.5" y1="406.82" x2="48.7" y2="406.82" stroke="#c8102e" stroke-width="1.4"/>
<circle cx="46.1" cy="400.89" r="2.3" fill="#c8102e"/>
<line x1="97.4" y1="493.08" x2="97.4" y2="499.01" stroke="#c8102e" stroke-width="1.4"/>
<line x1="94.8" y1="493.08" x2="100" y2="493.08" stroke="#c8102e" stroke-width="1.4"/>
<line x1="94.8" y1="499.01" x2="100" y2="499.01" stroke="#c8102e" stroke-width="1.4"/>
<circle cx="97.4" cy="496.05" r="2.3" fill="#c8102e"/>
<line x1="148.7" y1="508.37" x2="148.7" y2="511.93" stroke="#c8102e" stroke-width="1.4"/>
<line x1="146.1" y1="508.37" x2="151.3" y2="508.37" stroke="#c8102e" stroke-width="1.4"/>
<line x1="146.1" y1="511.93" x2="151.3" y2="511.93" stroke="#c8102e" stroke-width="1.4"/>
<circle cx="148.7" cy="510.15" r="2.3" fill="#c8102e"/>
<line x1="200" y1="490.95" x2="200" y2="499.25" stroke="#c8102e" stroke-width="1.4"/>
<line x1="197.4" y1="490.95" x2="202.6" y2="490.95" stroke="#c8102e" stroke-width="1.4"/>
<line x1="197.4" y1="499.25" x2="202.6" y2="499.25" stroke="#c8102e" stroke-width="1.4"/>
<circle cx="200" cy="495.1" r="2.3" fill="#c8102e"/>
<line x1="251.3" y1="487.04" x2="251.3" y2="491.78" stroke="#c8102e" stroke-width="1.4"/>
<line x1="248.7" y1="487.04" x2="253.9" y2="487.04" stroke="#c8102e" stroke-width="1.4"/>
<line x1="248.7" y1="491.78" x2="253.9" y2="491.78" stroke="#c8102e" stroke-width="1.4"/>
<circle cx="251.3" cy="489.41" r="2.3" fill="#c8102e"/>
<line x1="101.9" y1="422.8" x2="115.9" y2="422.8" stroke="#c8102e" stroke-width="1.7"/>
<circle cx="108.9" cy="422.8" r="2.5" fill="#c8102e"/>
<text x="121.7" y="425.7" font-size="8.2" stroke="#222" stroke-width="0.22" fill="#222" textLength="24.7" lengthAdjust="spacingAndGlyphs">Control</text>
<line x1="101.9" y1="434" x2="115.9" y2="434" stroke="#12528e" stroke-width="1.7"/>
<path d="M108.9 436.7L111.4 432.2L106.4 432.2Z" fill="#12528e"/>
<text x="121.7" y="436.9" font-size="8.2" stroke="#222" stroke-width="0.22" fill="#222" textLength="49.6" lengthAdjust="spacingAndGlyphs">STAT3 inhibitor</text>
<line x1="101.9" y1="447.9" x2="115.9" y2="447.9" stroke="#3dba4a" stroke-width="1.7"/>
<rect x="106.7" y="445.7" width="4.4" height="4.4" fill="#3dba4a"/>
<text x="121.7" y="450.8" font-size="8.2" stroke="#222" stroke-width="0.22" fill="#222" textLength="72.2" lengthAdjust="spacingAndGlyphs">STAT3 inhibitor + Dec</text>
<line x1="101.9" y1="460.9" x2="115.9" y2="460.9" stroke="#5c2d86" stroke-width="1.7"/>
<path d="M108.9 458.2L111.4 462.7L106.4 462.7Z" fill="#5c2d86"/>
<text x="121.7" y="463.8" font-size="8.2" stroke="#222" stroke-width="0.22" fill="#222" textLength="13.1" lengthAdjust="spacingAndGlyphs">Dec</text>
<text x="259.4" y="354.6" font-size="11" font-weight="bold" fill="#000" stroke="#000" stroke-width="0.35">I</text>
<line x1="296.6" y1="366.5" x2="296.6" y2="533.5" stroke="#000" stroke-width="1.4"/>
<line x1="293.8" y1="532.9" x2="296.6" y2="532.9" stroke="#000" stroke-width="1.4"/>
<text x="289.6" y="535.7" font-size="8.6" stroke="#3c3c3c" stroke-width="0.22" text-anchor="end" fill="#3c3c3c" textLength="4.4" lengthAdjust="spacingAndGlyphs">0</text>
<line x1="293.8" y1="509.2" x2="296.6" y2="509.2" stroke="#000" stroke-width="1.4"/>
<text x="289.6" y="512" font-size="8.6" stroke="#3c3c3c" stroke-width="0.22" text-anchor="end" fill="#3c3c3c" textLength="13.2" lengthAdjust="spacingAndGlyphs">200</text>
<line x1="293.8" y1="485.5" x2="296.6" y2="485.5" stroke="#000" stroke-width="1.4"/>
<text x="289.6" y="488.3" font-size="8.6" stroke="#3c3c3c" stroke-width="0.22" text-anchor="end" fill="#3c3c3c" textLength="13.2" lengthAdjust="spacingAndGlyphs">400</text>
<line x1="293.8" y1="461.8" x2="296.6" y2="461.8" stroke="#000" stroke-width="1.4"/>
<text x="289.6" y="464.6" font-size="8.6" stroke="#3c3c3c" stroke-width="0.22" text-anchor="end" fill="#3c3c3c" textLength="13.2" lengthAdjust="spacingAndGlyphs">600</text>
<line x1="293.8" y1="438.1" x2="296.6" y2="438.1" stroke="#000" stroke-width="1.4"/>
<text x="289.6" y="440.9" font-size="8.6" stroke="#3c3c3c" stroke-width="0.22" text-anchor="end" fill="#3c3c3c" textLength="13.2" lengthAdjust="spacingAndGlyphs">800</text>
<line x1="293.8" y1="414.4" x2="296.6" y2="414.4" stroke="#000" stroke-width="1.4"/>
<text x="289.6" y="417.2" font-size="8.6" stroke="#3c3c3c" stroke-width="0.22" text-anchor="end" fill="#3c3c3c" textLength="17.6" lengthAdjust="spacingAndGlyphs">1000</text>
<line x1="293.8" y1="390.7" x2="296.6" y2="390.7" stroke="#000" stroke-width="1.4"/>
<text x="289.6" y="393.5" font-size="8.6" stroke="#3c3c3c" stroke-width="0.22" text-anchor="end" fill="#3c3c3c" textLength="17.6" lengthAdjust="spacingAndGlyphs">1200</text>
<line x1="293.8" y1="367" x2="296.6" y2="367" stroke="#000" stroke-width="1.4"/>
<text x="289.6" y="369.8" font-size="8.6" stroke="#3c3c3c" stroke-width="0.22" text-anchor="end" fill="#3c3c3c" textLength="17.6" lengthAdjust="spacingAndGlyphs">1400</text>
<line x1="296" y1="532.9" x2="501.4" y2="532.9" stroke="#000" stroke-width="1.6"/>
<line x1="296.6" y1="532.9" x2="296.6" y2="536.3" stroke="#000" stroke-width="1.6"/>
<line x1="347.65" y1="532.9" x2="347.65" y2="536.3" stroke="#000" stroke-width="1.6"/>
<line x1="398.7" y1="532.9" x2="398.7" y2="536.3" stroke="#000" stroke-width="1.6"/>
<line x1="449.75" y1="532.9" x2="449.75" y2="536.3" stroke="#000" stroke-width="1.6"/>
<line x1="500.8" y1="532.9" x2="500.8" y2="536.3" stroke="#000" stroke-width="1.6"/>
<text x="296.6" y="547" font-size="8.6" stroke="#333" stroke-width="0.22" text-anchor="middle" fill="#333" textLength="4.3" lengthAdjust="spacingAndGlyphs">0</text>
<text x="347.65" y="547" font-size="8.6" stroke="#333" stroke-width="0.22" text-anchor="middle" fill="#333" textLength="4.3" lengthAdjust="spacingAndGlyphs">7</text>
<text x="398.7" y="547" font-size="8.6" stroke="#333" stroke-width="0.22" text-anchor="middle" fill="#333" textLength="8.6" lengthAdjust="spacingAndGlyphs">14</text>
<text x="449.75" y="547" font-size="8.6" stroke="#333" stroke-width="0.22" text-anchor="middle" fill="#333" textLength="8.6" lengthAdjust="spacingAndGlyphs">21</text>
<text x="500.8" y="547" font-size="8.6" stroke="#333" stroke-width="0.22" text-anchor="middle" fill="#333" textLength="8.6" lengthAdjust="spacingAndGlyphs">28</text>
<text x="403" y="557" font-size="9" stroke="#222" stroke-width="0.22" text-anchor="middle" fill="#222" textLength="15.6" lengthAdjust="spacingAndGlyphs">Days</text>
<line x1="296.6" y1="402.6" x2="500.8" y2="402.6" stroke="#3a3a3a" stroke-width="1.1" stroke-dasharray="2.2 0.8"/>
<line x1="296.6" y1="405.3" x2="500.8" y2="405.3" stroke="#000" stroke-width="1.4" stroke-dasharray="2 1"/>
<line x1="296.6" y1="408.1" x2="500.8" y2="408.1" stroke="#3a3a3a" stroke-width="1.1" stroke-dasharray="2.2 0.8"/>
<text x="269" y="448" font-size="8.6" text-anchor="middle" fill="#222" textLength="84" lengthAdjust="spacingAndGlyphs" transform="rotate(-90 269 448)" stroke="#222" stroke-width="0.08">Platelet count (×10<tspan font-size="4.5" dy="-2.5">9</tspan><tspan dy="2.5">/L)</tspan></text>
<polyline points="296.6,406.11 347.65,506.83 398.7,513.94 449.75,496.76 500.8,488.34" fill="none" stroke="#5c2d86" stroke-width="1.7" stroke-linejoin="round"/>
<line x1="296.6" y1="403.74" x2="296.6" y2="408.48" stroke="#5c2d86" stroke-width="1.4"/>
<line x1="294" y1="403.74" x2="299.2" y2="403.74" stroke="#5c2d86" stroke-width="1.4"/>
<line x1="294" y1="408.48" x2="299.2" y2="408.48" stroke="#5c2d86" stroke-width="1.4"/>
<path d="M296.6 403.62L298.9 407.76L294.3 407.76Z" fill="#5c2d86"/>
<line x1="347.65" y1="505.05" x2="347.65" y2="508.61" stroke="#5c2d86" stroke-width="1.4"/>
<line x1="345.05" y1="505.05" x2="350.25" y2="505.05" stroke="#5c2d86" stroke-width="1.4"/>
<line x1="345.05" y1="508.61" x2="350.25" y2="508.61" stroke="#5c2d86" stroke-width="1.4"/>
<path d="M347.65 504.35L349.95 508.49L345.35 508.49Z" fill="#5c2d86"/>
<line x1="398.7" y1="512.16" x2="398.7" y2="515.72" stroke="#5c2d86" stroke-width="1.4"/>
<line x1="396.1" y1="512.16" x2="401.3" y2="512.16" stroke="#5c2d86" stroke-width="1.4"/>
<line x1="396.1" y1="515.72" x2="401.3" y2="515.72" stroke="#5c2d86" stroke-width="1.4"/>
<path d="M398.7 511.46L401 515.6L396.4 515.6Z" fill="#5c2d86"/>
<line x1="449.75" y1="494.39" x2="449.75" y2="499.13" stroke="#5c2d86" stroke-width="1.4"/>
<line x1="447.15" y1="494.39" x2="452.35" y2="494.39" stroke="#5c2d86" stroke-width="1.4"/>
<line x1="447.15" y1="499.13" x2="452.35" y2="499.13" stroke="#5c2d86" stroke-width="1.4"/>
<path d="M449.75 494.27L452.05 498.41L447.45 498.41Z" fill="#5c2d86"/>
<line x1="500.8" y1="484.79" x2="500.8" y2="491.9" stroke="#5c2d86" stroke-width="1.4"/>
<line x1="498.2" y1="484.79" x2="503.4" y2="484.79" stroke="#5c2d86" stroke-width="1.4"/>
<line x1="498.2" y1="491.9" x2="503.4" y2="491.9" stroke="#5c2d86" stroke-width="1.4"/>
<path d="M500.8 485.86L503.1 490L498.5 490Z" fill="#5c2d86"/>
<polyline points="296.6,400.54 347.65,504.82 398.7,493.56 449.75,467.01 500.8,458.36" fill="none" stroke="#12528e" stroke-width="1.7" stroke-linejoin="round"/>
<line x1="296.6" y1="395.56" x2="296.6" y2="405.51" stroke="#12528e" stroke-width="1.4"/>
<line x1="294" y1="395.56" x2="299.2" y2="395.56" stroke="#12528e" stroke-width="1.4"/>
<line x1="294" y1="405.51" x2="299.2" y2="405.51" stroke="#12528e" stroke-width="1.4"/>
<path d="M296.6 403.02L298.9 398.88L294.3 398.88Z" fill="#12528e"/>
<line x1="347.65" y1="500.43" x2="347.65" y2="509.2" stroke="#12528e" stroke-width="1.4"/>
<line x1="345.05" y1="500.43" x2="350.25" y2="500.43" stroke="#12528e" stroke-width="1.4"/>
<line x1="345.05" y1="509.2" x2="350.25" y2="509.2" stroke="#12528e" stroke-width="1.4"/>
<path d="M347.65 507.3L349.95 503.16L345.35 503.16Z" fill="#12528e"/>
<line x1="398.7" y1="489.41" x2="398.7" y2="497.71" stroke="#12528e" stroke-width="1.4"/>
<line x1="396.1" y1="489.41" x2="401.3" y2="489.41" stroke="#12528e" stroke-width="1.4"/>
<line x1="396.1" y1="497.71" x2="401.3" y2="497.71" stroke="#12528e" stroke-width="1.4"/>
<path d="M398.7 496.04L401 491.9L396.4 491.9Z" fill="#12528e"/>
<line x1="449.75" y1="462.87" x2="449.75" y2="471.16" stroke="#12528e" stroke-width="1.4"/>
<line x1="447.15" y1="462.87" x2="452.35" y2="462.87" stroke="#12528e" stroke-width="1.4"/>
<line x1="447.15" y1="471.16" x2="452.35" y2="471.16" stroke="#12528e" stroke-width="1.4"/>
<path d="M449.75 469.5L452.05 465.36L447.45 465.36Z" fill="#12528e"/>
<line x1="500.8" y1="451.85" x2="500.8" y2="464.88" stroke="#12528e" stroke-width="1.4"/>
<line x1="498.2" y1="451.85" x2="503.4" y2="451.85" stroke="#12528e" stroke-width="1.4"/>
<line x1="498.2" y1="464.88" x2="503.4" y2="464.88" stroke="#12528e" stroke-width="1.4"/>
<path d="M500.8 460.85L503.1 456.71L498.5 456.71Z" fill="#12528e"/>
<polyline points="296.6,405.51 347.65,502.33 398.7,503.87 449.75,478.15 500.8,476.14" fill="none" stroke="#c8102e" stroke-width="1.7" stroke-linejoin="round"/>
<line x1="296.6" y1="397.81" x2="296.6" y2="413.21" stroke="#c8102e" stroke-width="1.4"/>
<line x1="294" y1="397.81" x2="299.2" y2="397.81" stroke="#c8102e" stroke-width="1.4"/>
<line x1="294" y1="413.21" x2="299.2" y2="413.21" stroke="#c8102e" stroke-width="1.4"/>
<circle cx="296.6" cy="405.51" r="2.3" fill="#c8102e"/>
<line x1="347.65" y1="498.18" x2="347.65" y2="506.47" stroke="#c8102e" stroke-width="1.4"/>
<line x1="345.05" y1="498.18" x2="350.25" y2="498.18" stroke="#c8102e" stroke-width="1.4"/>
<line x1="345.05" y1="506.47" x2="350.25" y2="506.47" stroke="#c8102e" stroke-width="1.4"/>
<circle cx="347.65" cy="502.33" r="2.3" fill="#c8102e"/>
<line x1="398.7" y1="499.13" x2="398.7" y2="508.61" stroke="#c8102e" stroke-width="1.4"/>
<line x1="396.1" y1="499.13" x2="401.3" y2="499.13" stroke="#c8102e" stroke-width="1.4"/>
<line x1="396.1" y1="508.61" x2="401.3" y2="508.61" stroke="#c8102e" stroke-width="1.4"/>
<circle cx="398.7" cy="503.87" r="2.3" fill="#c8102e"/>
<line x1="449.75" y1="475.19" x2="449.75" y2="481.12" stroke="#c8102e" stroke-width="1.4"/>
<line x1="447.15" y1="475.19" x2="452.35" y2="475.19" stroke="#c8102e" stroke-width="1.4"/>
<line x1="447.15" y1="481.12" x2="452.35" y2="481.12" stroke="#c8102e" stroke-width="1.4"/>
<circle cx="449.75" cy="478.15" r="2.3" fill="#c8102e"/>
<line x1="500.8" y1="471.99" x2="500.8" y2="480.29" stroke="#c8102e" stroke-width="1.4"/>
<line x1="498.2" y1="471.99" x2="503.4" y2="471.99" stroke="#c8102e" stroke-width="1.4"/>
<line x1="498.2" y1="480.29" x2="503.4" y2="480.29" stroke="#c8102e" stroke-width="1.4"/>
<circle cx="500.8" cy="476.14" r="2.3" fill="#c8102e"/>
<polyline points="296.6,409.66 347.65,502.45 398.7,515.6 449.75,492.37 500.8,486.45" fill="none" stroke="#3dba4a" stroke-width="1.7" stroke-linejoin="round"/>
<line x1="296.6" y1="407.29" x2="296.6" y2="412.03" stroke="#3dba4a" stroke-width="1.4"/>
<line x1="294" y1="407.29" x2="299.2" y2="407.29" stroke="#3dba4a" stroke-width="1.4"/>
<line x1="294" y1="412.03" x2="299.2" y2="412.03" stroke="#3dba4a" stroke-width="1.4"/>
<rect x="294.4" y="407.46" width="4.4" height="4.4" fill="#3dba4a"/>
<line x1="347.65" y1="500.67" x2="347.65" y2="504.22" stroke="#3dba4a" stroke-width="1.4"/>
<line x1="345.05" y1="500.67" x2="350.25" y2="500.67" stroke="#3dba4a" stroke-width="1.4"/>
<line x1="345.05" y1="504.22" x2="350.25" y2="504.22" stroke="#3dba4a" stroke-width="1.4"/>
<rect x="345.45" y="500.25" width="4.4" height="4.4" fill="#3dba4a"/>
<line x1="398.7" y1="514.18" x2="398.7" y2="517.02" stroke="#3dba4a" stroke-width="1.4"/>
<line x1="396.1" y1="514.18" x2="401.3" y2="514.18" stroke="#3dba4a" stroke-width="1.4"/>
<line x1="396.1" y1="517.02" x2="401.3" y2="517.02" stroke="#3dba4a" stroke-width="1.4"/>
<rect x="396.5" y="513.4" width="4.4" height="4.4" fill="#3dba4a"/>
<line x1="449.75" y1="489.41" x2="449.75" y2="495.34" stroke="#3dba4a" stroke-width="1.4"/>
<line x1="447.15" y1="489.41" x2="452.35" y2="489.41" stroke="#3dba4a" stroke-width="1.4"/>
<line x1="447.15" y1="495.34" x2="452.35" y2="495.34" stroke="#3dba4a" stroke-width="1.4"/>
<rect x="447.55" y="490.17" width="4.4" height="4.4" fill="#3dba4a"/>
<line x1="500.8" y1="483.49" x2="500.8" y2="489.41" stroke="#3dba4a" stroke-width="1.4"/>
<line x1="498.2" y1="483.49" x2="503.4" y2="483.49" stroke="#3dba4a" stroke-width="1.4"/>
<line x1="498.2" y1="489.41" x2="503.4" y2="489.41" stroke="#3dba4a" stroke-width="1.4"/>
<rect x="498.6" y="484.25" width="4.4" height="4.4" fill="#3dba4a"/>
<line x1="351.9" y1="423.9" x2="365.9" y2="423.9" stroke="#5c2d86" stroke-width="1.7"/>
<path d="M358.9 421.2L361.4 425.7L356.4 425.7Z" fill="#5c2d86"/>
<text x="371.7" y="426.8" font-size="8.2" stroke="#222" stroke-width="0.22" fill="#222" textLength="24.7" lengthAdjust="spacingAndGlyphs">Control</text>
<line x1="351.9" y1="437.3" x2="365.9" y2="437.3" stroke="#3dba4a" stroke-width="1.7"/>
<rect x="356.7" y="435.1" width="4.4" height="4.4" fill="#3dba4a"/>
<text x="371.7" y="440.2" font-size="8.2" stroke="#222" stroke-width="0.22" fill="#222" textLength="42.7" lengthAdjust="spacingAndGlyphs">AKT-inhibitor</text>
<line x1="351.9" y1="450.4" x2="365.9" y2="450.4" stroke="#c8102e" stroke-width="1.7"/>
<circle cx="358.9" cy="450.4" r="2.5" fill="#c8102e"/>
<text x="371.7" y="453.3" font-size="8.2" stroke="#222" stroke-width="0.22" fill="#222" textLength="65.3" lengthAdjust="spacingAndGlyphs">AKT-inhibitor + Dec</text>
<line x1="351.9" y1="463.8" x2="365.9" y2="463.8" stroke="#12528e" stroke-width="1.7"/>
<path d="M358.9 466.5L361.4 462L356.4 462Z" fill="#12528e"/>
<text x="371.7" y="466.7" font-size="8.2" stroke="#222" stroke-width="0.22" fill="#222" textLength="13.1" lengthAdjust="spacingAndGlyphs">Dec</text>
</svg>
</body></html>
